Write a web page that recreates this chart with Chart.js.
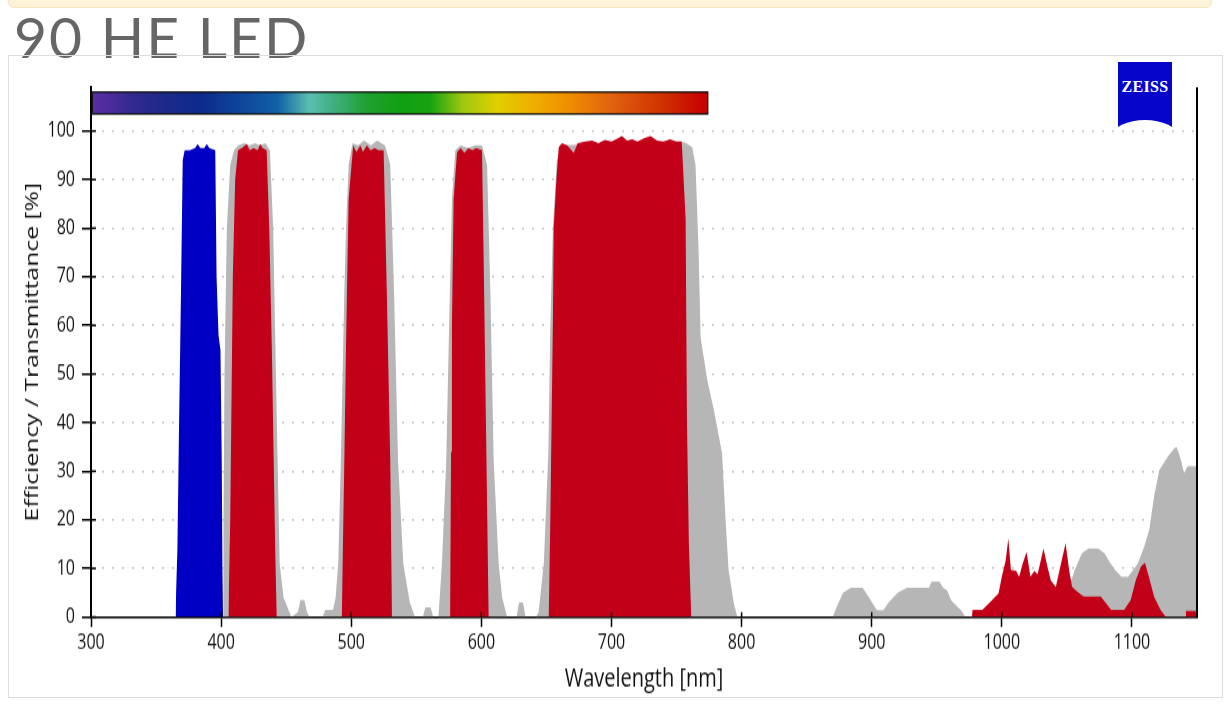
<!DOCTYPE html>
<html><head><meta charset="utf-8">
<script src="https://cdn.jsdelivr.net/npm/chart.js@4.4.0/dist/chart.umd.min.js"></script>
<style>
html,body{margin:0;padding:0;background:#fff;width:1232px;height:720px;overflow:hidden;position:relative}
#band{position:absolute;left:8px;top:-6px;width:1204px;height:14px;background:#fdf3d9;border:1px solid #f5e6c0;border-radius:6px;box-sizing:border-box}
#title{position:absolute;left:14px;top:1px;font-family:Lato,'Open Sans',sans-serif;font-size:57px;line-height:70px;color:#666;letter-spacing:2px;white-space:nowrap}
#box{position:absolute;left:8px;top:55px;width:1215px;height:643px;border:1px solid #ddd;box-sizing:border-box}
#wrap{position:absolute;left:0;top:0;width:1213px;height:493px;transform:scaleY(1.3002);transform-origin:0 0}
#logo{position:absolute;left:1118px;top:62px;width:54px;height:65px;background:#0505cc;overflow:hidden}
#logo span{position:absolute;left:0;top:17px;width:100%;text-align:center;color:#fff;font-family:'Liberation Serif','DejaVu Serif',serif;font-weight:bold;font-size:16px;line-height:16px;letter-spacing:0.3px}
#logo i{position:absolute;left:-5px;top:58px;width:64px;height:30px;border-radius:50%;background:#fff}
</style></head>
<body>
<div id="band"></div>
<div id="title">90 HE LED</div>
<div id="box"><div id="wrap"><canvas id="c"></canvas></div></div>
<div id="logo"><span>ZEISS</span><i></i></div>
<script>
// ---- data (wavelength nm / percent) ----
const xTicks = [300,400,500,600,700,800,900,1000,1100];
const yTicks = [0,10,20,30,40,50,60,70,80,90,100];

const blueNm  = [365,365.4,366.4,367.7,369,370.5,372,376,380,382,384,387,389,391,395.5,396.5,398,399.5,400.5,401,401.5];
const blueVal = [0,5,14,40,64,94,96,96,96.5,97.3,96.5,96.5,97.3,96.5,96,70,58,55,32,10,0];

const redNm  = [405.6,407,409,410.8,413,416,419.7,422,425,428,430,432,435,437,439,441.5,442.7,
  492.8,493.5,494.8,496,498,501.5,504,507,509,512,515,518,521,524.9,527.4,530,531.3,
  576,576.7,577.4,578.7,581.3,584,587,590,593,596,600.5,601.8,603.6,605.6,
  651.8,653,655,655.6,657.7,659.5,662,666,671,674,680,685,690,695,700,705,708,712,716,720,725,730,735,740,745,750,754,757,758,759.5,761.3,
  977,977.5,985,991.5,997.5,1000,1003,1005,1007,1011,1013.3,1016,1019,1022,1025,1027.5,1030,1032,1035,1037.7,1041.5,1045,1049,1051.7,1054,1058,1063,1076,1080,1084,1094,1099,1103,1107,1110,1113,1117,1122,1126,1141,1141.5,1150];
const redVal = [0,20,70,90,96,96.5,97.3,96,96.5,96,97.3,96.5,96,80,55,15,0,
  0,13,34,56,86,97,95.7,97,95.7,97,96,96.5,96,96,66,32,0,
  0,34,60,86,95.6,96.5,95.5,96.5,96,96.5,96,73,38.5,0,
  0,20,61,80,90,96.7,97.5,97,95.5,97.5,97.8,98,97.5,98.2,97.8,98.5,99,98,98.3,97.8,98.5,99,98,97.8,98.3,97.8,97.8,81.7,40.5,15,0,
  0,1.5,1.5,3.2,4.9,8.3,11.7,16.2,9.7,9.5,8.3,11,13.4,8.3,9.5,8.8,11.7,14.1,10.4,7.5,6.2,10.4,15.2,9.7,6.2,5.2,4.2,4.2,2.9,1.5,1.5,3.5,7.6,10.4,11.2,8.3,4.2,1.5,0,0,1.3,1.3];

const grayNm = [401.5,401.8,402.6,404.4,407,410,413,418,422,426,430,434,437.5,440,443,445,448,451,454,459,461,464,466,468,478,480,486,488,490,492,494.6,496,498,501,505,510,515,520,523,526,530,533,536,540,545,549,555,557,561,563,567,569.7,573,574.9,577.4,580,584,590,595,600.5,604.4,607,609.5,613.3,616,619.8,627,629,632,634,642,644,648,651.5,653,655,658,662,700,756,762,764.6,767,768.5,773.6,778.7,785,787.7,790,794,796.7,870,873,878,884,893,898,904,909,913,920,927,944,946,952,955,958,961,966,968.5,972,975,1000,1050,1054,1056,1061.5,1066.7,1074,1079,1082,1087,1092,1097,1101,1104.4,1109.5,1113.3,1117,1121,1127.5,1132.5,1134.4,1137.7,1140,1142.8,1150];
const grayVal = [0,20,50,80,93,96,97,97.5,97,97.5,97,97.5,96,80,38,11,4,2,0,1,3.5,3.5,1,0,0,1.5,1.5,4,11,32,66,80,93,97.5,97,98,97,98,97.5,97,93,66,32,11,3,0,0,2,2,0,0,11,32,56,86,96,97,96.5,97,97,93,66,32,11,4,0,0,3,3,0,0,1,11,34,60,80,94,97,97.5,97.7,96.7,93,75,57.6,48.8,42.6,33.7,20,9.7,2.9,0,0,2,5,6,6,4,1.4,1.4,3,5,6,6,7.3,7.3,6,5.5,3.5,2.1,1.5,0,0,3,6,8,9.7,13.1,14.1,14.1,13.1,11.7,9.7,8.3,8.3,9.7,11,14.5,17.9,24.8,30.2,33,34.7,35,32.3,29.6,31,31];

// spectrum colour bar
const specRange = [301, 774];
const specLevels = [103.5, 108];
const specNm = [301,314,332,358,384,443,468,486,512,540,561,586,612,638,666,702,740,772];
const specColors = ['#5b2ea2','#4d2c9e','#32298f','#1c2a8a','#0d2a8c','#1060a8','#5abfb0','#40b080','#20a030','#10a010','#18a410','#a0c810','#e0d000','#f0b000','#f09000','#e06010','#d03000','#c80000'];

const pts = (xs, ys) => xs.map((x, i) => ({x, y: ys[i]}));

const FONT = "'Open Sans','DejaVu Sans',sans-serif";

const spectrumBar = {
  id: 'spectrumBar',
  afterDatasetsDraw(chart) {
    const {ctx, scales: {x, y}} = chart;
    const x0 = x.getPixelForValue(specRange[0]), x1 = x.getPixelForValue(specRange[1]);
    const yTop = y.getPixelForValue(specLevels[1]), yBot = y.getPixelForValue(specLevels[0]);
    const g = ctx.createLinearGradient(x0, 0, x1, 0);
    specNm.forEach((nm, i) => g.addColorStop((nm - specRange[0]) / (specRange[1] - specRange[0]), specColors[i]));
    ctx.save();
    ctx.fillStyle = g;
    ctx.fillRect(x0, yTop, x1 - x0, yBot - yTop);
    ctx.strokeStyle = '#111';
    ctx.lineWidth = 1.3;
    ctx.strokeRect(x0, yTop, x1 - x0, yBot - yTop);
    ctx.restore();
  }
};

const innerTicks = {
  id: 'innerTicks',
  afterDraw(chart) {
    const {ctx, scales: {x, y}, chartArea: a} = chart;
    ctx.save();
    ctx.strokeStyle = '#000';
    ctx.lineWidth = 1.5;
    x.ticks.forEach(t => {
      const px = x.getPixelForValue(t.value);
      ctx.beginPath(); ctx.moveTo(px, a.bottom); ctx.lineTo(px, a.bottom - 3.8); ctx.stroke();
    });
    y.ticks.forEach(t => {
      const py = y.getPixelForValue(t.value);
      ctx.beginPath(); ctx.moveTo(a.left, py); ctx.lineTo(a.left + 5, py); ctx.stroke();
    });
    ctx.lineWidth = 2;
    ctx.beginPath(); ctx.moveTo(a.right, a.top); ctx.lineTo(a.right, a.bottom); ctx.stroke();
    ctx.restore();
  }
};

const area = (label, xs, ys, color) => ({
  label, data: pts(xs, ys), backgroundColor: color, borderColor: color,
  borderWidth: 0, fill: 'origin', pointRadius: 0, tension: 0
});

new Chart(document.getElementById('c'), {
  type: 'line',
  data: {
    datasets: [
      area('Excitation', blueNm, blueVal, '#0000c4'),
      area('Emission', redNm, redVal, '#c20018'),
      area('Transmittance', grayNm, grayVal, '#b6b6b6')
    ]
  },
  options: {
    responsive: true, maintainAspectRatio: false, animation: false,
    layout: {padding: {top: 24, right: 25, left: 0, bottom: 0}},
    plugins: {legend: {display: false}, tooltip: {enabled: false}},
    scales: {
      x: {
        type: 'linear', min: 300, max: 1150, z: 1,
        ticks: {stepSize: 100, color: '#111', font: {family: FONT, size: 16}, padding: 3, maxRotation: 0, includeBounds: false,
          callback: v => String(v)},
        afterBuildTicks: s => { s.ticks = xTicks.map(v => ({value: v})); },
        grid: {drawOnChartArea: false, drawTicks: true, tickLength: 7.7, tickColor: '#000', tickWidth: 1.5},
        border: {color: '#000', width: 1.5},
        title: {display: true, text: 'Wavelength [nm]', color: '#111', font: {family: FONT, size: 20}, padding: {top: 0, bottom: 2}},
        afterFit: s => { s.height = 61.5; }
      },
      y: {
        min: 0, max: 109, z: 1,
        ticks: {stepSize: 10, color: '#111', font: {family: FONT, size: 16}, padding: 7, includeBounds: false,
          callback: v => String(v)},
        afterBuildTicks: s => { s.ticks = yTicks.map(v => ({value: v})); },
        grid: {
          color: c => (c.tick && c.tick.value === 0) ? 'rgba(0,0,0,0)' : '#c6c6c6',
          lineWidth: 1.5, tickLength: 9, tickColor: '#000', tickWidth: 1.5
        },
        border: {color: '#000', width: 2, dash: [2, 8]},
        title: {display: true, text: 'Efficiency / Transmittance [%]', color: '#111', font: {family: FONT, size: 19}, padding: {top: 12.6, bottom: 0}},
        afterFit: s => { s.width = 82; }
      }
    }
  },
  plugins: [spectrumBar, innerTicks]
});
</script>
</body></html>
